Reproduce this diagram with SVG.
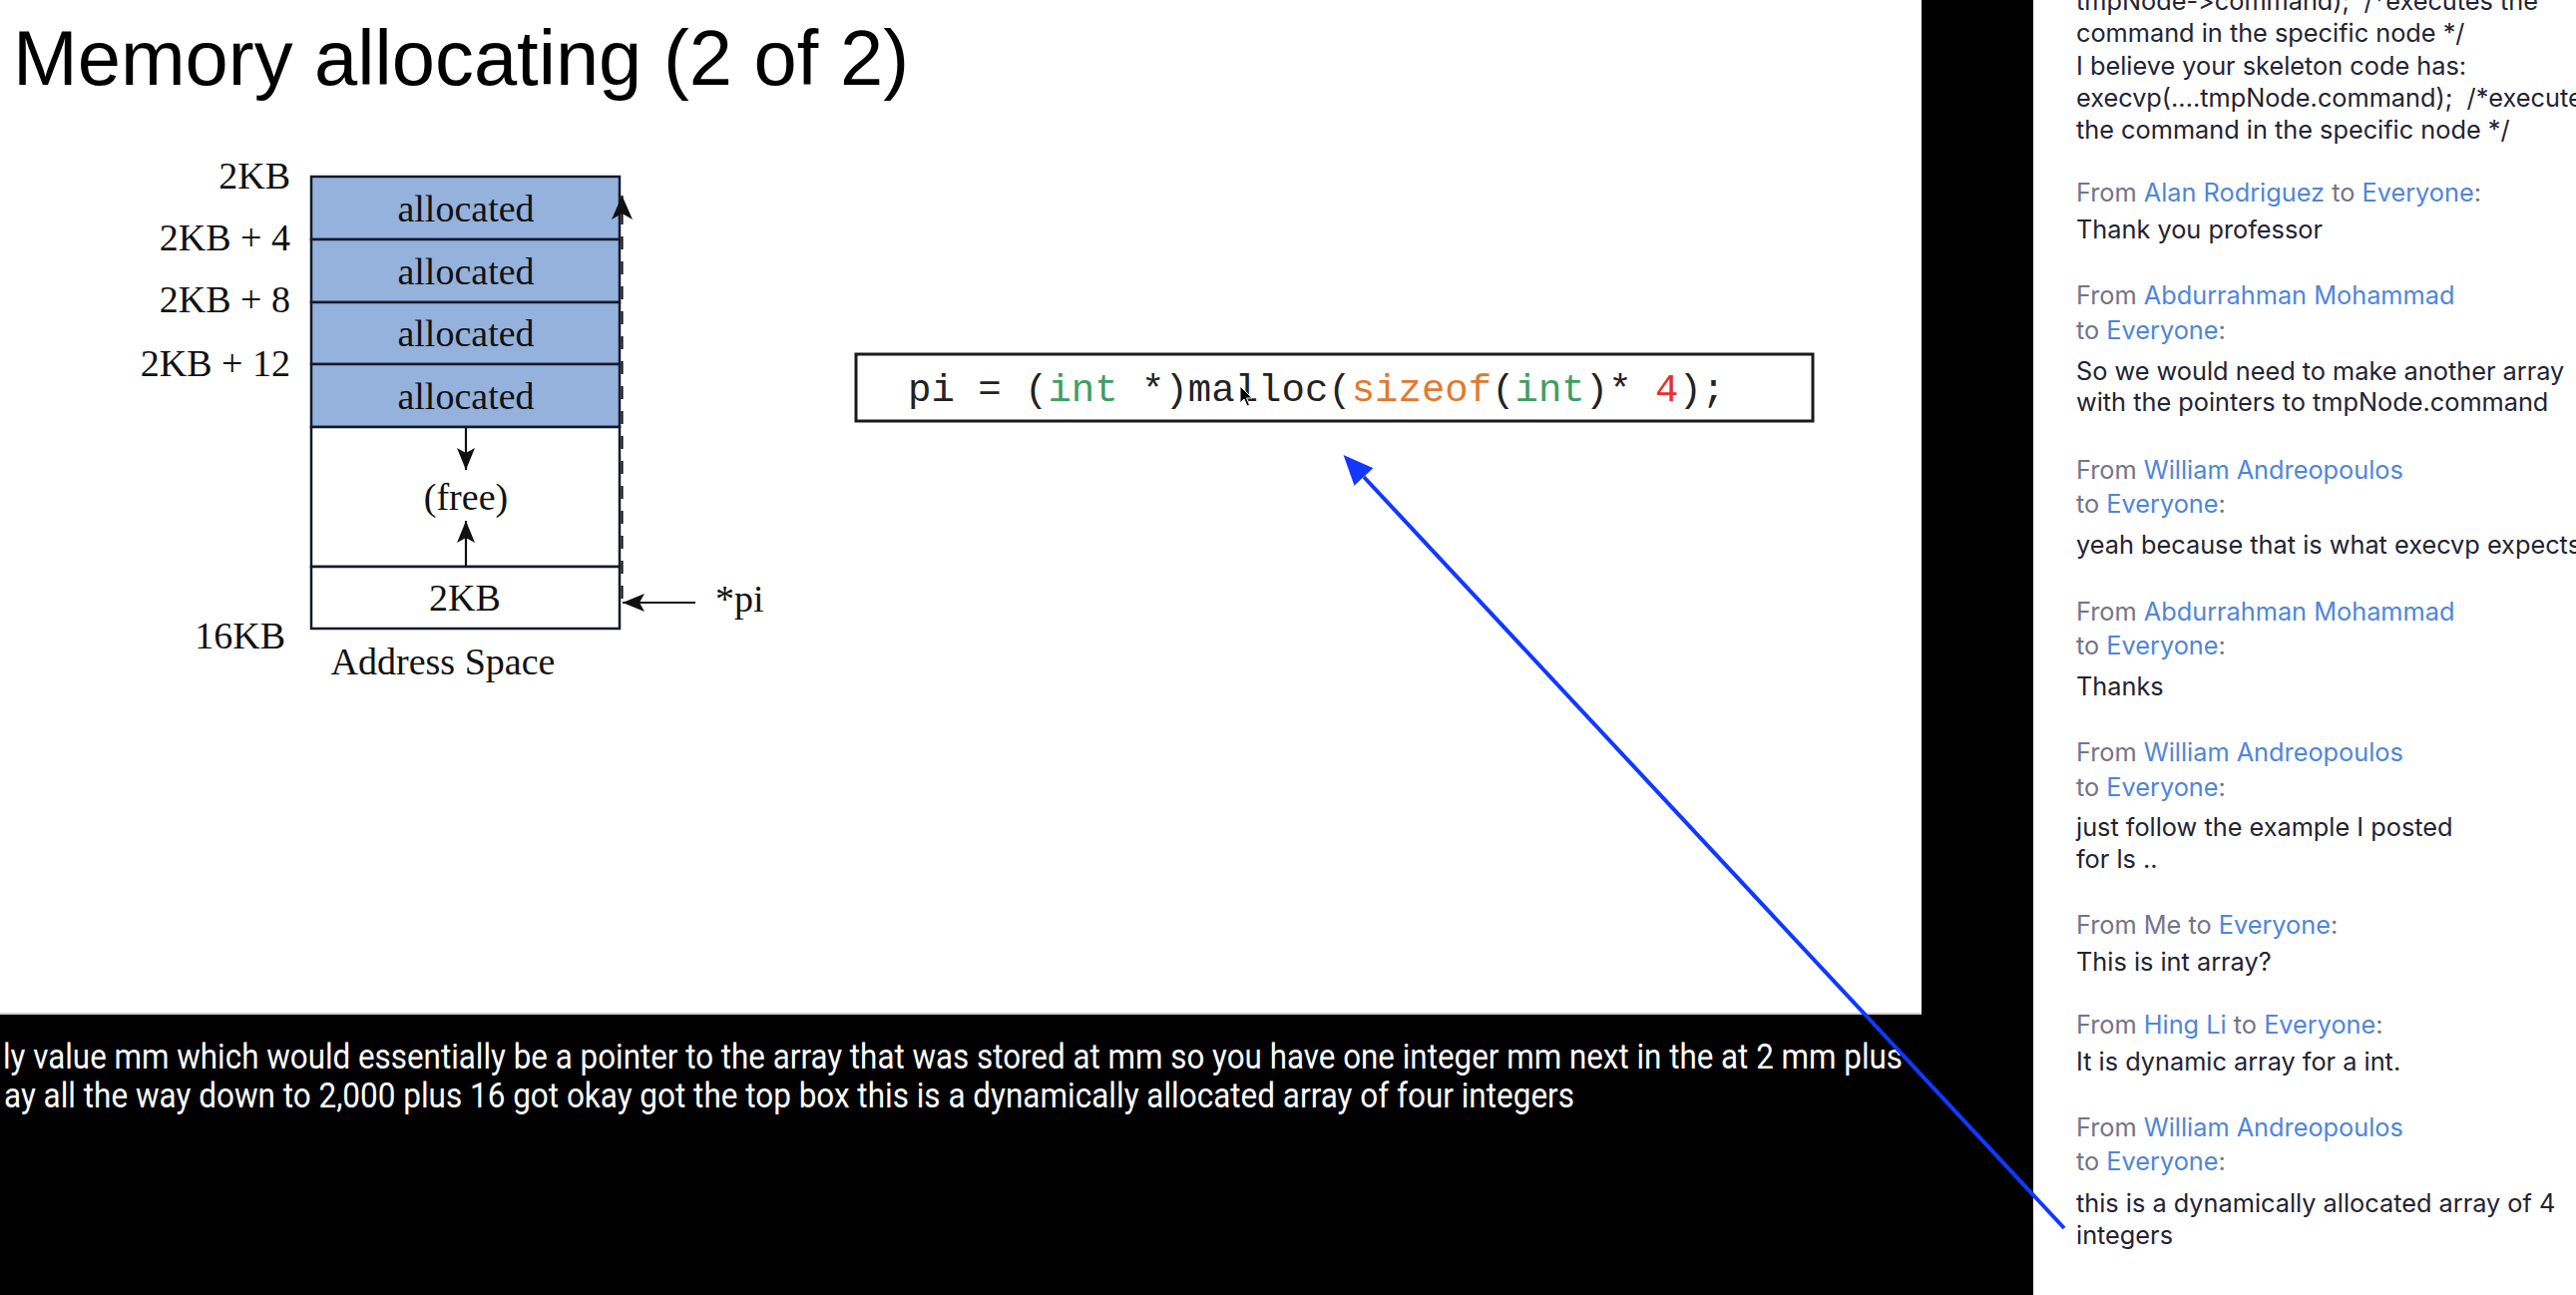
<svg xmlns="http://www.w3.org/2000/svg" width="2582" height="1298" viewBox="0 0 2582 1298">
  <style>
    .serif { font-family: "Liberation Serif", "Times New Roman", serif; font-size: 38px; fill: #111; }
    .mid { text-anchor: middle; }
    .end { text-anchor: end; }
    .cell { stroke: #15182a; stroke-width: 2.5; }
    .alloc { fill: #95b2dd; }
    .free { fill: #ffffff; }
    .chat { font-family: Inter, Lato, "Open Sans", sans-serif; font-size: 25.3px; fill: #232333; white-space: pre; font-variant-ligatures: none; font-feature-settings: "calt" 0, "liga" 0; }
    .gray { fill: #747487; }
    .blue { fill: #4f86d9; }
    .cap { font-family: Roboto, "Open Sans", sans-serif; font-size: 35px; fill: #ffffff; }
    .code { font-family: "Liberation Mono", "Courier New", monospace; font-size: 39px; fill: #222; white-space: pre; }
    .kw { fill: #3e9e62; }
    .fn { fill: #df7a2e; }
    .num { fill: #e2332c; }
    .arr { stroke: #111; stroke-width: 2.2; fill: none; }
  </style>
  <defs>
    <marker id="barb" markerUnits="userSpaceOnUse" viewBox="0 0 24 21" refX="24" refY="10.5" markerWidth="24" markerHeight="21" orient="auto">
      <path d="M0,0 L24,10.5 L0,21 L6,10.5 Z" fill="#111"/>
    </marker>
    <marker id="barbS" markerUnits="userSpaceOnUse" viewBox="0 0 22 18" refX="22" refY="9" markerWidth="22" markerHeight="18" orient="auto">
      <path d="M0,0 L22,9 L0,18 L5,9 Z" fill="#111"/>
    </marker>
    <marker id="blueHead" markerUnits="userSpaceOnUse" viewBox="0 0 30 26" refX="0" refY="13" markerWidth="30" markerHeight="26" orient="auto">
      <path d="M0,0 L30,13 L0,26 Z" fill="#1238ff"/>
    </marker>
  </defs>

  <!-- backgrounds -->
  <rect x="0" y="0" width="2582" height="1298" fill="#000"/>
  <rect id="slide" x="0" y="0" width="1926" height="1016" fill="#fff"/>
  <line x1="0" y1="1016" x2="1926" y2="1016" stroke="#cfcfcf" stroke-width="2"/>
  <rect id="chat-bg" x="2038" y="0" width="544" height="1298" fill="#fff"/>

  <g id="title">
    <text x="13" y="85" font-family="Liberation Sans, Arial, sans-serif" font-size="78" fill="#000" textLength="898" lengthAdjust="spacingAndGlyphs">Memory allocating (2 of 2)</text>
  </g>

  <g id="address-space">
    <g id="row-1"><rect class="cell alloc" x="312" y="177" width="309" height="63"/><text class="serif mid" x="467" y="222">allocated</text></g>
    <g id="row-2"><rect class="cell alloc" x="312" y="240" width="309" height="63"/><text class="serif mid" x="467" y="285">allocated</text></g>
    <g id="row-3"><rect class="cell alloc" x="312" y="303" width="309" height="62"/><text class="serif mid" x="467" y="347">allocated</text></g>
    <g id="row-4"><rect class="cell alloc" x="312" y="365" width="309" height="63"/><text class="serif mid" x="467" y="410">allocated</text></g>
    <g id="row-free"><rect class="cell free" x="312" y="428" width="309" height="140"/><text class="serif mid" x="467" y="511">(free)</text></g>
    <g id="row-stack"><rect class="cell free" x="312" y="568" width="309" height="62"/><text class="serif mid" x="466" y="612">2KB</text></g>
    <g id="labels">
      <text class="serif end" x="291" y="189">2KB</text>
      <text class="serif end" x="291" y="251">2KB + 4</text>
      <text class="serif end" x="291" y="313">2KB + 8</text>
      <text class="serif end" x="291" y="377">2KB + 12</text>
      <text class="serif end" x="286" y="650">16KB</text>
      <text class="serif mid" x="444" y="676">Address Space</text>
    </g>
    <g id="pi-label"><text class="serif" x="717" y="613">*pi</text></g>
  </g>

  <g id="code-box">
    <rect x="858" y="355" width="959" height="67" fill="#fff" stroke="#1a1a1a" stroke-width="3"/>
    <text class="code" x="910" y="402">pi = (<tspan class="kw">int</tspan> *)malloc(<tspan class="fn">sizeof</tspan>(<tspan class="kw">int</tspan>)* <tspan class="num">4</tspan>);</text>
  </g>

  <g id="cursor">
    <path d="M1243,387 L1243,404 L1247,400 L1250,407 L1252.5,406 L1249.5,399 L1255,399 Z" fill="#000" stroke="#fff" stroke-width="1"/>
  </g>

  <g id="captions">
    <text class="cap" x="3" y="1071" textLength="1904" lengthAdjust="spacingAndGlyphs">ly value mm which would essentially be a pointer to the array that was stored at mm so you have one integer mm next in the at 2 mm plus</text>
    <text class="cap" x="4" y="1110" textLength="1574" lengthAdjust="spacingAndGlyphs">ay all the way down to 2,000 plus 16 got okay got the top box this is a dynamically allocated array of four integers</text>
  </g>

  <g id="chat">
    <text class="chat" x="2081" y="10">tmpNode-&gt;command);  /*executes the</text>
    <text class="chat" x="2081" y="42">command in the specific node */</text>
    <text class="chat" x="2081" y="75">I believe your skeleton code has:</text>
    <text class="chat" x="2081" y="107">execvp(....tmpNode.command);  /*execute</text>
    <text class="chat" x="2081" y="139">the command in the specific node */</text>

    <text class="chat gray" x="2081" y="202">From <tspan class="blue">Alan Rodriguez</tspan> to <tspan class="blue">Everyone</tspan>:</text>
    <text class="chat" x="2081" y="239">Thank you professor</text>

    <text class="chat gray" x="2081" y="305">From <tspan class="blue">Abdurrahman Mohammad</tspan></text>
    <text class="chat gray" x="2081" y="340">to <tspan class="blue">Everyone</tspan>:</text>
    <text class="chat" x="2081" y="381">So we would need to make another array</text>
    <text class="chat" x="2081" y="412">with the pointers to tmpNode.command</text>

    <text class="chat gray" x="2081" y="480">From <tspan class="blue">William Andreopoulos</tspan></text>
    <text class="chat gray" x="2081" y="514">to <tspan class="blue">Everyone</tspan>:</text>
    <text class="chat" x="2081" y="555">yeah because that is what execvp expects</text>

    <text class="chat gray" x="2081" y="622">From <tspan class="blue">Abdurrahman Mohammad</tspan></text>
    <text class="chat gray" x="2081" y="656">to <tspan class="blue">Everyone</tspan>:</text>
    <text class="chat" x="2081" y="697">Thanks</text>

    <text class="chat gray" x="2081" y="763">From <tspan class="blue">William Andreopoulos</tspan></text>
    <text class="chat gray" x="2081" y="798">to <tspan class="blue">Everyone</tspan>:</text>
    <text class="chat" x="2081" y="838">just follow the example I posted</text>
    <text class="chat" x="2081" y="870">for ls ..</text>

    <text class="chat gray" x="2081" y="936">From Me to <tspan class="blue">Everyone</tspan>:</text>
    <text class="chat" x="2081" y="973">This is int array?</text>

    <text class="chat gray" x="2081" y="1036">From <tspan class="blue">Hing Li</tspan> to <tspan class="blue">Everyone</tspan>:</text>
    <text class="chat" x="2081" y="1073">It is dynamic array for a int.</text>

    <text class="chat gray" x="2081" y="1139">From <tspan class="blue">William Andreopoulos</tspan></text>
    <text class="chat gray" x="2081" y="1173">to <tspan class="blue">Everyone</tspan>:</text>
    <text class="chat" x="2081" y="1215">this is a dynamically allocated array of 4</text>
    <text class="chat" x="2081" y="1247">integers</text>
  </g>

  <g id="connectors">
    <line class="arr" x1="623.5" y1="600" x2="623.5" y2="196" stroke-width="4.5" stroke-dasharray="13 12" marker-end="url(#barb)"/>
    <line class="arr" x1="467" y1="429" x2="467" y2="471" marker-end="url(#barbS)"/>
    <line class="arr" x1="467" y1="567" x2="467" y2="522" marker-end="url(#barbS)"/>
    <line class="arr" x1="697" y1="604" x2="624" y2="604" marker-end="url(#barbS)"/>
    <line x1="2069" y1="1231" x2="1367" y2="478" stroke="#1238ff" stroke-width="4" marker-end="url(#blueHead)"/>
  </g>
</svg>
